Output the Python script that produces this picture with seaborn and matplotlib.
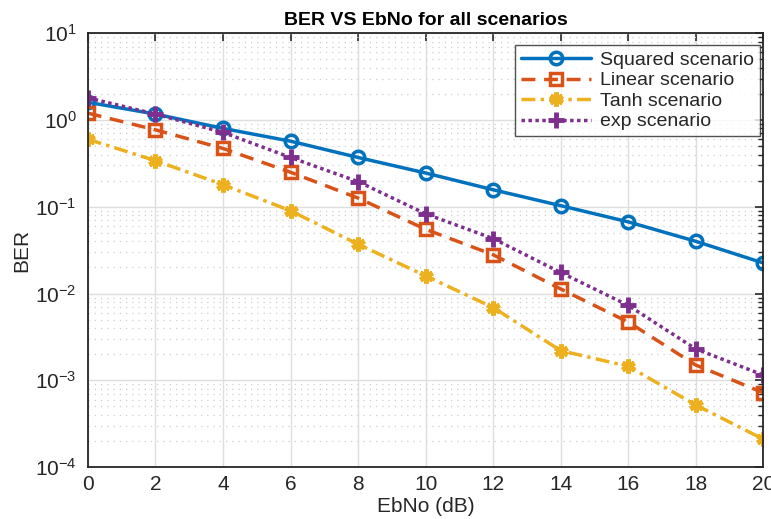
import numpy as np
import pandas as pd
import matplotlib
matplotlib.use("Agg")
import matplotlib.pyplot as plt
import seaborn as sns
from matplotlib.ticker import LogLocator, NullFormatter, MultipleLocator
from matplotlib.lines import Line2D

ebno = [0, 2, 4, 6, 8, 10, 12, 14, 16, 18, 20]
squared = [1.6, 1.17, 0.80, 0.57, 0.37, 0.245, 0.157, 0.103, 0.067, 0.040, 0.0225]
linear = [1.2, 0.77, 0.47, 0.25, 0.126, 0.055, 0.028, 0.0113, 0.0047, 0.0015, 0.00072]
tanh_ = [0.60, 0.34, 0.18, 0.090, 0.037, 0.016, 0.0069, 0.0022, 0.00145, 0.00052, 0.00021]
expo = [1.8, 1.17, 0.72, 0.37, 0.195, 0.083, 0.043, 0.0175, 0.0073, 0.0023, 0.00115]
names = ["Squared scenario", "Linear scenario", "Tanh scenario", "exp scenario"]

sns.set_style("white")
plt.rcParams['font.family'] = ['Liberation Sans', 'DejaVu Sans']
plt.rcParams['mathtext.default'] = 'regular'

fig = plt.figure(figsize=(7.71, 5.19), dpi=100)
ax = fig.add_axes([0.114, 0.100, 0.876, 0.836])

colors = ["#0072BD", "#D95319", "#EDB120", "#7E2F8E"]
styles = [
    dict(linestyle="-", marker="o", markersize=9, markerfacecolor="none", markeredgewidth=2.5),
    dict(linestyle=(0, (4, 2.5)), marker="s", markersize=8, markerfacecolor="none", markeredgewidth=2.5),
    dict(linestyle=(0, (4, 1.5, 1, 1.5)), marker=(6, 2, 0), markersize=10, markeredgewidth=3.5),
    dict(linestyle=(0, (1, 1)), marker="+", markersize=12, markeredgewidth=3.5),
]
series = [squared, linear, tanh_, expo]
for vals, name, c, st in zip(series, names, colors, styles):
    df = pd.DataFrame({"EbNo": ebno, "BER": vals})
    sns.lineplot(data=df, x="EbNo", y="BER", ax=ax, color=c, linewidth=2.5,
                 markeredgecolor=c, legend=False, **st)

ax.set_yscale("log")
ax.set_xlim(0, 20)
ax.set_ylim(1e-4, 10)
ax.xaxis.set_major_locator(MultipleLocator(2))
ax.yaxis.set_major_locator(LogLocator(base=10, numticks=10))
ax.yaxis.set_minor_locator(LogLocator(base=10, subs=np.arange(2, 10), numticks=10))
ax.yaxis.set_minor_formatter(NullFormatter())

ax.grid(True, which="major", color="#dedede", linewidth=1, linestyle="-")
ax.grid(True, which="minor", axis="y", color="#cfcfcf", linewidth=0.9, linestyle=(0, (1, 4)))
ax.set_axisbelow(True)

ax.tick_params(axis="both", which="both", direction="in", top=True, right=True,
               colors="#262626", labelsize=15)
ax.tick_params(axis="x", which="major", pad=6)
ax.tick_params(axis="y", which="major", pad=8)
ax.tick_params(which="major", length=6, width=1.2)
ax.tick_params(which="minor", length=3.5, width=1)
for s in ax.spines.values():
    s.set_color("#262626")
    s.set_linewidth(1.3)

ax.set_xlabel("EbNo (dB)", fontsize=15, color="#262626", labelpad=2)
ax.set_ylabel("BER", fontsize=15, color="#262626", labelpad=3)
ax.set_title("BER VS EbNo for all scenarios", fontsize=14, fontweight="bold", color="#000000", pad=6)

handles = [Line2D([], [], color=c, linewidth=2.5, markeredgecolor=c, **st)
           for c, st in zip(colors, styles)]
leg = ax.legend(handles, names, loc="upper right", fontsize=14, frameon=True, fancybox=False,
                edgecolor="#262626", handlelength=3.6, borderpad=0.3, labelspacing=0.15,
                handletextpad=0.5, borderaxespad=0, bbox_to_anchor=(0.9956, 0.972))
leg.get_frame().set_linewidth(1.0)

fig.savefig("out.png", dpi=100)
